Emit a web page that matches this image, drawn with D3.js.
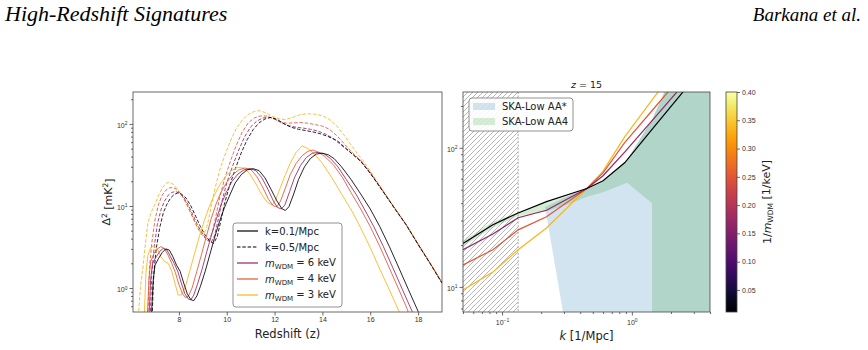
<!DOCTYPE html>
<html>
<head>
<meta charset="utf-8">
<script src="https://cdn.jsdelivr.net/npm/d3@7"></script>
<style>
  body { margin: 0; background: #fff; }
  svg { display: block; font-family: "DejaVu Sans", sans-serif; }
</style>
</head>
<body>
<div id="main"></div>
<script>
//left panel curves: [redshift, delta^2] for k=0.1 (solid) and k=0.5 (dashed)
const cdmK01 = [[6.85,0.45],[6.92,1.2],[7.0,1.9],[7.15,2.3],[7.3,2.7],[7.45,3.0],[7.6,2.9],[7.75,2.4],[7.9,1.9],[8.05,1.6],[8.2,1.15],[8.35,0.85],[8.5,0.72],[8.62,0.7],[8.75,0.8],[8.9,1.05],[9.1,1.6],[9.3,2.6],[9.5,4.2],[9.7,6.5],[9.9,9.5],[10.1,13],[10.35,19],[10.6,24],[10.85,27.5],[11.1,28.5],[11.35,27],[11.6,22],[11.85,16],[12.1,11.5],[12.3,9.3],[12.45,8.8],[12.6,9.8],[12.8,14],[13.0,21],[13.25,30],[13.5,38],[13.75,43],[14.0,44],[14.25,42],[14.5,37.5],[14.8,30],[15.2,21],[15.6,14],[16.0,9.2],[16.4,5.6],[16.8,3.2],[17.2,1.75],[17.6,0.95],[18.0,0.52],[18.1,0.45]];
const wdm6K01 = [[6.75,0.45],[6.82,1.3],[6.9,2.0],[7.05,2.4],[7.2,2.8],[7.35,3.05],[7.5,2.9],[7.65,2.4],[7.8,2.0],[7.95,1.6],[8.1,1.15],[8.25,0.85],[8.4,0.73],[8.5,0.72],[8.62,0.82],[8.77,1.1],[8.97,1.7],[9.17,2.8],[9.37,4.5],[9.57,7.0],[9.77,10.5],[9.97,14.5],[10.22,20],[10.47,24.5],[10.72,27.5],[10.97,28.5],[11.22,27],[11.47,22],[11.72,16],[11.95,11.5],[12.12,9.6],[12.28,9.2],[12.43,10.3],[12.63,15],[12.83,22],[13.08,31],[13.33,39],[13.58,44],[13.83,45],[14.08,43],[14.33,38],[14.63,30.5],[15.0,21],[15.4,14],[15.75,9.2],[16.15,5.6],[16.55,3.2],[16.95,1.75],[17.35,0.95],[17.75,0.52],[17.85,0.45]];
const wdm4K01 = [[6.68,0.45],[6.75,1.3],[6.82,2.1],[6.95,2.6],[7.1,3.0],[7.25,3.2],[7.4,3.0],[7.55,2.5],[7.7,2.0],[7.85,1.55],[8.0,1.1],[8.15,0.85],[8.28,0.76],[8.4,0.8],[8.55,1.0],[8.75,1.6],[8.95,2.6],[9.15,4.3],[9.35,7],[9.55,10.5],[9.75,14.5],[10.0,19.5],[10.25,24],[10.5,27.5],[10.75,29],[11.0,28],[11.25,23],[11.5,17],[11.75,12],[11.95,10],[12.1,9.8],[12.25,11.5],[12.45,16.5],[12.65,24],[12.9,33],[13.15,41],[13.4,46.5],[13.6,48],[13.85,45],[14.1,40],[14.45,32],[14.85,22],[15.2,14.5],[15.6,9.2],[16.0,5.6],[16.4,3.2],[16.8,1.75],[17.2,0.95],[17.55,0.55],[17.65,0.45]];
const wdm3K01 = [[6.55,0.45],[6.62,1.5],[6.7,2.5],[6.82,3.1],[6.95,3.3],[7.1,3.0],[7.25,2.4],[7.4,2.1],[7.55,2.0],[7.7,1.6],[7.85,1.1],[7.97,0.82],[8.1,0.82],[8.25,1.0],[8.45,1.6],[8.65,2.6],[8.85,4.2],[9.05,6.5],[9.25,9.5],[9.45,13],[9.7,18],[9.95,23],[10.2,27],[10.45,29.5],[10.7,29],[10.95,25],[11.2,19],[11.45,14],[11.7,11],[11.9,10.3],[12.05,12],[12.25,17],[12.45,24],[12.65,33],[12.9,45],[13.15,54],[13.4,50],[13.7,42],[14.0,33],[14.4,22],[14.8,14],[15.25,8.5],[15.6,5.4],[16.0,3.1],[16.4,1.7],[16.8,0.95],[17.2,0.52],[17.3,0.45]];
const cdmK05 = [[6.88,0.45],[6.95,1.5],[7.05,3.0],[7.2,5.5],[7.35,8.3],[7.5,10.5],[7.65,12.5],[7.8,13.8],[7.95,14.4],[8.1,14],[8.3,12.5],[8.5,10],[8.7,7.5],[8.9,5.6],[9.1,4.4],[9.3,3.7],[9.45,3.5],[9.6,4.2],[9.75,6.5],[9.9,10.5],[10.1,17],[10.35,28],[10.6,44],[10.85,64],[11.1,85],[11.35,103],[11.6,115],[11.85,120],[12.1,114],[12.4,100],[12.7,91],[13.0,86],[13.3,83],[13.6,80],[13.9,76],[14.2,71],[14.6,63],[15.0,50],[15.6,35],[16.0,25],[16.5,15.5],[17.0,9.5],[17.5,5.9],[18.0,3.4],[18.5,2.0],[19.0,1.15]];
const wdm6K05 = [[6.8,0.45],[6.87,1.6],[6.97,3.2],[7.1,6],[7.25,9],[7.4,11.5],[7.55,13.5],[7.7,14.6],[7.85,15],[8.0,14.5],[8.2,12.8],[8.4,10.2],[8.6,7.6],[8.8,5.7],[9.0,4.5],[9.2,3.8],[9.35,3.6],[9.5,4.4],[9.65,7],[9.8,11.5],[10.0,19],[10.25,31],[10.5,48],[10.75,70],[11.0,92],[11.25,108],[11.5,118],[11.75,121],[12.0,115],[12.3,103],[12.6,95],[12.9,91],[13.2,89],[13.5,86],[13.8,82],[14.1,76],[14.4,68],[14.7,58],[15.0,49],[15.6,35.5],[16.0,25.3],[16.5,15.6],[17.0,9.5],[17.5,5.9],[18.0,3.4],[18.5,2.0],[19.0,1.15]];
const wdm4K05 = [[6.7,0.45],[6.77,1.8],[6.87,3.6],[7.0,6.8],[7.15,10.5],[7.3,13.5],[7.45,15.5],[7.6,16.6],[7.75,16.8],[7.9,16],[8.1,13.8],[8.3,11],[8.5,8.2],[8.7,6],[8.9,4.7],[9.1,4.0],[9.25,3.8],[9.4,4.8],[9.55,7.6],[9.7,12.5],[9.9,21],[10.15,35],[10.4,55],[10.65,80],[10.9,103],[11.15,118],[11.4,125],[11.65,125],[11.9,118],[12.2,107],[12.5,102],[12.8,103],[13.1,104],[13.4,102],[13.7,98],[14.0,94],[14.3,86],[14.6,72],[14.9,58],[15.2,46],[15.6,36],[16.0,25.6],[16.5,15.7],[17.0,9.6],[17.5,5.9],[18.0,3.4],[18.5,2.0],[19.0,1.16]];
const wdm3K05 = [[6.3,0.45],[6.4,1.1],[6.5,1.8],[6.6,3.5],[6.7,6.2],[6.85,8.5],[7.0,10.5],[7.15,13.5],[7.3,16.5],[7.45,18.8],[7.58,19.5],[7.75,18.5],[7.95,16],[8.15,13],[8.35,10],[8.55,7.5],[8.75,5.8],[8.95,4.8],[9.05,4.5],[9.2,6],[9.35,10],[9.5,16],[9.7,27],[9.9,40],[10.15,62],[10.4,88],[10.65,112],[10.9,131],[11.15,142],[11.35,145],[11.6,138],[11.9,124],[12.2,115],[12.45,113],[12.75,120],[13.05,129],[13.35,133],[13.65,132],[13.95,127],[14.25,116],[14.55,98],[14.85,77],[15.15,58],[15.45,44],[15.75,34],[16.1,24],[16.5,16],[17.0,9.7],[17.5,6.0],[18.0,3.5],[18.5,2.05],[19.0,1.18]];

//right panel: delta^2 at z=15 versus k
const kVals = [0.05, 0.085, 0.133, 0.22, 0.45, 0.6, 0.88, 1.5, 2.5, 4];
const cdmZ15 = [20.5, 28, 34, 41, 51, 58, 78, 143, 255, 436];
const wdm6Z15 = [18.5, 24, 31.4, 35.6, 51, 63, 93, 165, 286, 500];
const wdm4Z15 = [14.4, 18.5, 25.7, 31.9, 51, 66, 109, 195, 340, 600];
const wdm3Z15 = [9.5, 12.8, 18.5, 26.5, 51, 68, 120, 234, 445, 800];

//ska sensitivity bands
const kAA4 = [0.05, 0.085, 0.133, 0.22, 0.34, 0.45, 0.6, 0.92, 1.43, 1.431, 2.0, 4];
const aa4Low = [19.5, 26.6, 32.3, 35, 40, 44.5, 48, 56, 40, 3, 3, 3];
const aa4High = [21.5, 29.4, 34.5, 40.5, 46, 50.5, 58, 82, 160, 160, 320, 3000];
const kAAstar = [0.215, 0.34, 0.45, 0.6, 0.92, 1.43, 2.0, 4];
const aaStarLow = [37, 3, 3, 3, 3, 3, 3, 3];
const aaStarHigh = [37.5, 46, 50.5, 58, 82, 160, 320, 3000];
const hatchLimit = 0.133;

//tick values
const leftXTicks = [8, 10, 12, 14, 16, 18];
const leftYTicks = [1, 10, 100];
const rightXTicks = [0.1, 1];
const rightYTicks = [10, 100];
const cbTicks = [0.05, 0.10, 0.15, 0.20, 0.25, 0.30, 0.35, 0.40];
const wdmMasses = [6, 4, 3];

//sizes
const width = 868;
const height = 350;
const axisColor = '#444';

const svg = d3.select('#main')
              .append('svg')
              .attr('width', width)
              .attr('height', height);

//colour map for 1/m_WDM
const cbScale = d3.scaleLinear().domain([0.011, 0.40]).range([0, 1]);
const wdmColor = m => d3.interpolateInferno(cbScale(1 / m));

//page header
svg.append('text').attr('x', 5).attr('y', 21)
   .style('font-family', '"Liberation Serif", serif').style('font-style', 'italic')
   .style('font-size', '22px').text('High-Redshift Signatures');
svg.append('text').attr('x', 861).attr('y', 21).attr('text-anchor', 'end')
   .style('font-family', '"Liberation Serif", serif').style('font-style', 'italic')
   .style('font-size', '19px').text('Barkana et al.');

//helper for 10^n tick labels
function powerLabel(sel, exp) {
  sel.append('tspan').text('10');
  sel.append('tspan').attr('dy', '-0.5em').style('font-size', '5px').text(exp);
}
function styleAxis(g) {
  g.select('.domain').remove();
  g.selectAll('line').attr('stroke', axisColor).attr('stroke-width', 0.8);
  g.selectAll('text').attr('fill', '#333').style('font-size', '7px');
}

// ---------------- left panel ----------------
const L = {x0: 133, x1: 442, y0: 92, y1: 312};
const xL = d3.scaleLinear().domain([6.08, 19.0]).range([L.x0, L.x1]);
const yL = d3.scaleLog().domain([0.51, 245]).range([L.y1, L.y0]);

svg.append('clipPath').attr('id', 'clipL').append('rect')
   .attr('x', L.x0).attr('y', L.y0).attr('width', L.x1 - L.x0).attr('height', L.y1 - L.y0);

const lineL = d3.line().x(d => xL(d[0])).y(d => yL(d[1]));
const gL = svg.append('g').attr('clip-path', 'url(#clipL)');

const dashedCurves = [[wdm3K05, wdmColor(3)], [wdm4K05, wdmColor(4)], [wdm6K05, wdmColor(6)], [cdmK05, '#000']];
const solidCurves = [[wdm3K01, wdmColor(3)], [wdm4K01, wdmColor(4)], [wdm6K01, wdmColor(6)], [cdmK01, '#000']];

gL.selectAll('.dashed').data(dashedCurves).enter()
  .append('path').attr('class', 'dashed')
  .attr('d', d => lineL(d[0])).attr('fill', 'none')
  .attr('stroke', d => d[1]).attr('stroke-width', 1)
  .attr('stroke-dasharray', '3.5,1.8').attr('opacity', 0.85);
gL.selectAll('.solid').data(solidCurves).enter()
  .append('path').attr('class', 'solid')
  .attr('d', d => lineL(d[0])).attr('fill', 'none')
  .attr('stroke', d => d[1]).attr('stroke-width', 1).attr('opacity', 0.85);

//left axes
svg.append('g').attr('transform', 'translate(0,' + L.y1 + ')')
   .call(d3.axisBottom(xL).tickValues(leftXTicks).tickSize(3.5).tickPadding(2))
   .call(styleAxis);

const yLMinor = yL.ticks().filter(t => !leftYTicks.includes(t));
svg.append('g').attr('transform', 'translate(' + L.x0 + ',0)')
   .call(d3.axisLeft(yL).tickValues(yLMinor).tickSize(2).tickFormat(''))
   .call(styleAxis);
const yLMajor = svg.append('g').attr('transform', 'translate(' + L.x0 + ',0)')
   .call(d3.axisLeft(yL).tickValues(leftYTicks).tickSize(3.5).tickPadding(2).tickFormat(''))
   .call(styleAxis);
yLMajor.selectAll('.tick').append('text')
   .attr('x', -5.5).attr('dy', '0.5em').attr('text-anchor', 'end')
   .attr('fill', '#333').style('font-size', '7px')
   .each(function(d) { powerLabel(d3.select(this), Math.round(Math.log10(d))); });

svg.append('rect').attr('x', L.x0).attr('y', L.y0)
   .attr('width', L.x1 - L.x0).attr('height', L.y1 - L.y0)
   .attr('fill', 'none').attr('stroke', axisColor).attr('stroke-width', 0.8);

//axis labels
svg.append('text').attr('x', (L.x0 + L.x1) / 2).attr('y', 338).attr('text-anchor', 'middle')
   .style('font-size', '11.5px').attr('fill', '#222').text('Redshift (z)');
const yLab = svg.append('text').attr('transform', 'translate(110,' + ((L.y0 + L.y1) / 2) + ') rotate(-90)')
   .attr('text-anchor', 'middle').style('font-size', '11px').attr('fill', '#222');
yLab.append('tspan').text('Δ');
yLab.append('tspan').attr('dy', '-0.45em').style('font-size', '7.5px').text('2');
yLab.append('tspan').attr('dy', '0.45em').text(' [mK');
yLab.append('tspan').attr('dy', '-0.45em').style('font-size', '7.5px').text('2');
yLab.append('tspan').attr('dy', '0.45em').text(']');

//left legend
const legL = svg.append('g').attr('transform', 'translate(233,223)');
legL.append('rect').attr('width', 109).attr('height', 84).attr('rx', 3)
    .attr('fill', '#fff').attr('fill-opacity', 0.85).attr('stroke', '#777').attr('stroke-width', 0.8);
const legItems = [
  {label: 'k=0.1/Mpc', color: '#000', dash: null},
  {label: 'k=0.5/Mpc', color: '#000', dash: '3.5,1.8'}
].concat(wdmMasses.map(m => ({mass: m, color: wdmColor(m), dash: null})));
const legRow = legL.selectAll('.leg').data(legItems).enter().append('g')
    .attr('transform', (d, i) => 'translate(0,' + (8 + i * 16) + ')');
legRow.append('line').attr('x1', 4).attr('x2', 25)
    .attr('stroke', d => d.color).attr('stroke-width', 1.2)
    .attr('stroke-dasharray', d => d.dash);
legRow.append('text').attr('x', 32).attr('dy', '0.35em').style('font-size', '10px').attr('fill', '#222')
    .each(function(d) {
      const t = d3.select(this);
      if (d.label) { t.text(d.label); return; }
      t.append('tspan').style('font-style', 'italic').text('m');
      t.append('tspan').attr('dy', '0.3em').style('font-size', '7px').text('WDM');
      t.append('tspan').attr('dy', '-0.3em').text(' = ' + d.mass + ' keV');
    });

// ---------------- right panel ----------------
const R = {x0: 463, x1: 710, y0: 92, y1: 312};
const xR = d3.scaleLog().domain([0.05, 4]).range([R.x0, R.x1]);
const yR = d3.scaleLog().domain([6.6, 252]).range([R.y1, R.y0]);

svg.append('clipPath').attr('id', 'clipR').append('rect')
   .attr('x', R.x0).attr('y', R.y0).attr('width', R.x1 - R.x0).attr('height', R.y1 - R.y0);
const gR = svg.append('g').attr('clip-path', 'url(#clipR)');

//sensitivity bands
const bandArea = d3.area().x(d => xR(d[0])).y0(d => yR(d[1])).y1(d => yR(d[2]));
gR.append('path').datum(kAAstar.map((k, i) => [k, aaStarLow[i], aaStarHigh[i]]))
  .attr('d', bandArea).attr('fill', '#1f77b4').attr('fill-opacity', 0.2);
gR.append('path').datum(kAA4.map((k, i) => [k, aa4Low[i], aa4High[i]]))
  .attr('d', bandArea).attr('fill', '#2ca02c').attr('fill-opacity', 0.2);

//hatched low-k region
const pat = svg.append('defs').append('pattern').attr('id', 'hatch')
   .attr('patternUnits', 'userSpaceOnUse').attr('width', 5).attr('height', 5);
pat.append('path').attr('d', 'M0,5 L5,0 M-1,1 L1,-1 M4,6 L6,4')
   .attr('stroke', '#999').attr('stroke-width', 0.7);
gR.append('rect').attr('x', R.x0).attr('y', R.y0)
  .attr('width', xR(hatchLimit) - R.x0).attr('height', R.y1 - R.y0)
  .attr('fill', 'url(#hatch)');
gR.append('line').attr('x1', xR(hatchLimit)).attr('x2', xR(hatchLimit))
  .attr('y1', R.y0).attr('y2', R.y1)
  .attr('stroke', '#999').attr('stroke-width', 0.8).attr('stroke-dasharray', '2,1.5');

//signal lines
const lineR = d3.line().x(d => xR(d[0])).y(d => yR(d[1]));
const rightCurves = [[wdm3Z15, wdmColor(3)], [wdm4Z15, wdmColor(4)], [wdm6Z15, wdmColor(6)], [cdmZ15, '#000']];
gR.selectAll('.sig').data(rightCurves).enter().append('path').attr('class', 'sig')
  .attr('d', d => lineR(kVals.map((k, i) => [k, d[0][i]])))
  .attr('fill', 'none').attr('stroke', d => d[1]).attr('stroke-width', 1.2);

//right axes
const xRMinor = xR.ticks().filter(t => !rightXTicks.includes(t));
svg.append('g').attr('transform', 'translate(0,' + R.y1 + ')')
   .call(d3.axisBottom(xR).tickValues(xRMinor).tickSize(2).tickFormat(''))
   .call(styleAxis);
const xRMajor = svg.append('g').attr('transform', 'translate(0,' + R.y1 + ')')
   .call(d3.axisBottom(xR).tickValues(rightXTicks).tickSize(3.5).tickFormat(''))
   .call(styleAxis);
xRMajor.selectAll('.tick').append('text')
   .attr('y', 12.5).attr('text-anchor', 'middle').attr('fill', '#333').style('font-size', '7px')
   .each(function(d) {
     const e = Math.round(Math.log10(d));
     powerLabel(d3.select(this), e < 0 ? '\u2212' + (-e) : e);
   });

const yRMinor = yR.ticks().filter(t => !rightYTicks.includes(t));
svg.append('g').attr('transform', 'translate(' + R.x0 + ',0)')
   .call(d3.axisLeft(yR).tickValues(yRMinor).tickSize(2).tickFormat(''))
   .call(styleAxis);
const yRMajor = svg.append('g').attr('transform', 'translate(' + R.x0 + ',0)')
   .call(d3.axisLeft(yR).tickValues(rightYTicks).tickSize(3.5).tickFormat(''))
   .call(styleAxis);
yRMajor.selectAll('.tick').append('text')
   .attr('x', -5.5).attr('dy', '0.5em').attr('text-anchor', 'end')
   .attr('fill', '#333').style('font-size', '7px')
   .each(function(d) { powerLabel(d3.select(this), Math.round(Math.log10(d))); });

svg.append('rect').attr('x', R.x0).attr('y', R.y0)
   .attr('width', R.x1 - R.x0).attr('height', R.y1 - R.y0)
   .attr('fill', 'none').attr('stroke', axisColor).attr('stroke-width', 0.8);

//title and x label
const title = svg.append('text').attr('x', (R.x0 + R.x1) / 2).attr('y', 88)
   .attr('text-anchor', 'middle').style('font-size', '9.5px').attr('fill', '#222');
title.append('tspan').style('font-style', 'italic').text('z');
title.append('tspan').text(' = 15');
const xRLab = svg.append('text').attr('x', (R.x0 + R.x1) / 2).attr('y', 340)
   .attr('text-anchor', 'middle').style('font-size', '11.5px').attr('fill', '#222');
xRLab.append('tspan').style('font-style', 'italic').text('k');
xRLab.append('tspan').text(' [1/Mpc]');

//right legend
const legR = svg.append('g').attr('transform', 'translate(469,98)');
legR.append('rect').attr('width', 104).attr('height', 33).attr('rx', 3)
    .attr('fill', '#fff').attr('fill-opacity', 0.85).attr('stroke', '#777').attr('stroke-width', 0.8);
const legRItems = [['SKA-Low AA*', '#1f77b4'], ['SKA-Low AA4', '#2ca02c']];
const legRRow = legR.selectAll('.legr').data(legRItems).enter().append('g')
    .attr('transform', (d, i) => 'translate(0,' + (8.5 + i * 15) + ')');
legRRow.append('rect').attr('x', 4).attr('y', -3.5).attr('width', 22).attr('height', 7)
    .attr('fill', d => d[1]).attr('fill-opacity', 0.2);
legRRow.append('text').attr('x', 33).attr('dy', '0.35em').style('font-size', '10px').attr('fill', '#222')
    .text(d => d[0]);

// ---------------- colorbar ----------------
const C = {x0: 726, x1: 737, y0: 92, y1: 312};
const yC = d3.scaleLinear().domain(cbScale.domain()).range([C.y1, C.y0]);
const grad = svg.select('defs').append('linearGradient').attr('id', 'cbGrad')
   .attr('x1', 0).attr('y1', 1).attr('x2', 0).attr('y2', 0);
d3.range(0, 1.0001, 0.05).forEach(t => {
  grad.append('stop').attr('offset', t).attr('stop-color', d3.interpolateInferno(t));
});
svg.append('rect').attr('x', C.x0).attr('y', C.y0)
   .attr('width', C.x1 - C.x0).attr('height', C.y1 - C.y0)
   .attr('fill', 'url(#cbGrad)').attr('stroke', axisColor).attr('stroke-width', 0.8);
svg.append('g').attr('transform', 'translate(' + C.x1 + ',0)')
   .call(d3.axisRight(yC).tickValues(cbTicks).tickSize(3).tickPadding(2).tickFormat(d3.format('.2f')))
   .call(styleAxis);

const cbLab = svg.append('text').attr('transform', 'translate(771,' + ((C.y0 + C.y1) / 2) + ') rotate(-90)')
   .attr('text-anchor', 'middle').style('font-size', '11px').attr('fill', '#222');
cbLab.append('tspan').text('1/');
cbLab.append('tspan').style('font-style', 'italic').text('m');
cbLab.append('tspan').attr('dy', '0.3em').style('font-size', '7.5px').text('WDM');
cbLab.append('tspan').attr('dy', '-0.3em').text(' [1/keV]');
</script>
</body>
</html>
